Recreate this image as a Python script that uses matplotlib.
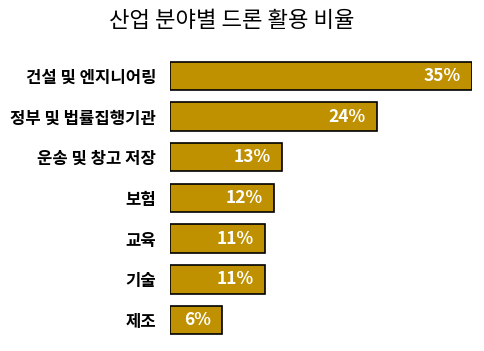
import matplotlib
matplotlib.use('Agg')
import matplotlib.pyplot as plt

plt.rcParams['font.family'] = ['Noto Sans CJK KR', 'DejaVu Sans']

industries = ['건설 및 엔지니어링', '정부 및 법률집행기관', '운송 및 창고 저장',
              '보험', '교육', '기술', '제조']
shares = [35, 24, 13, 12, 11, 11, 6]

fig = plt.figure(figsize=(4.85, 3.51), dpi=100)
ax = fig.add_axes([170 / 485, 0.030, 302 / 485, 0.812])

ypos = list(range(len(industries)))
bars = ax.barh(ypos, shares, height=0.7, color='#BF9000',
               edgecolor='black', linewidth=1.2)
ax.set_xlim(0, 35)
ax.set_ylim(len(industries) - 0.5, -0.5)

for y, v in zip(ypos, shares):
    ax.text(v - 1.3, y, f'{v}%', ha='right', va='center', color='white',
            fontsize=12.5, fontweight='bold')

ax.set_yticks(ypos)
ax.set_yticklabels(industries, fontsize=12, fontweight='bold')
ax.tick_params(axis='y', length=0, pad=10)
ax.set_xticks([])
for s in ax.spines.values():
    s.set_visible(False)

fig.text(0.478, 0.943, '산업 분야별 드론 활용 비율', ha='center', va='center',
         fontsize=16)

fig.savefig('out.png', dpi=100)
